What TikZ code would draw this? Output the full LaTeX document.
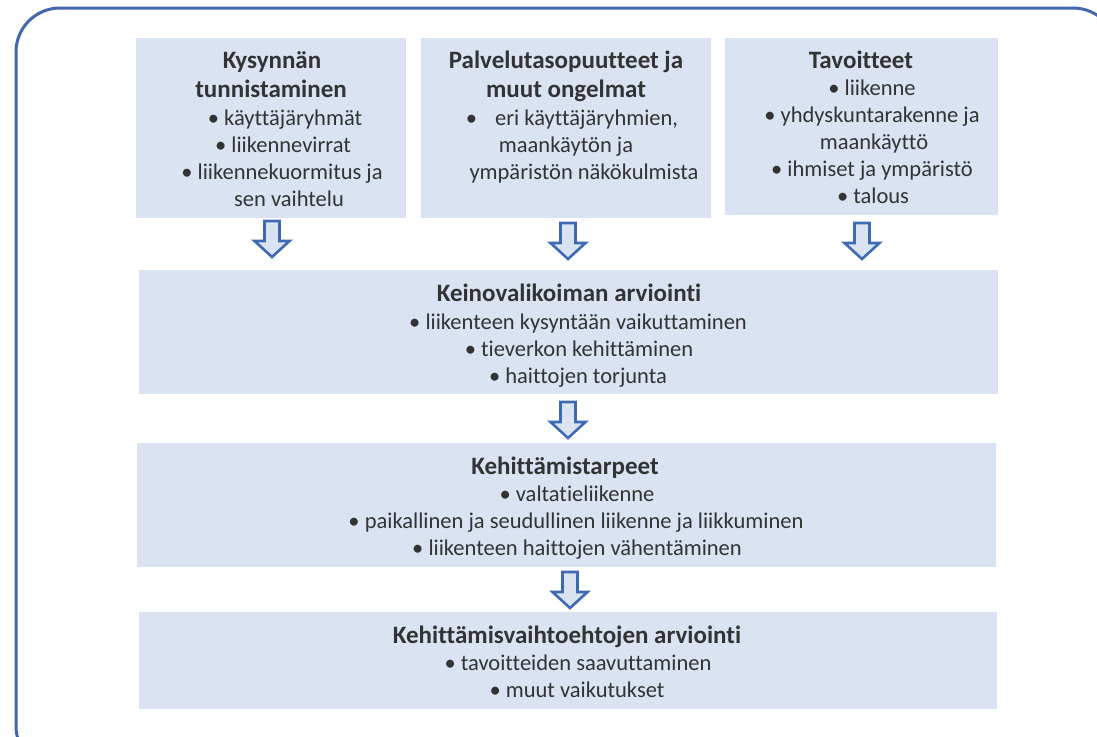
\documentclass[tikz,border=0pt]{standalone}
\usepackage{fontspec}
\setmainfont{Carlito}[RawFeature={-liga;-clig;-calt;-dlig}]
\definecolor{boxfill}{HTML}{D9E3F2}
\definecolor{framec}{HTML}{4466AF}
\definecolor{arrc}{HTML}{3D6AB2}
\definecolor{txt}{HTML}{333333}
\tikzset{
  box/.style={fill=boxfill, draw=none, inner sep=0pt, outer sep=0pt, anchor=north west},
  ttl/.style={font=\fontsize{25}{29}\selectfont\bfseries, text=txt, anchor=base, inner sep=0pt},
  bl/.style={font=\fontsize{22.5}{27}\selectfont, text=txt, anchor=base, inner sep=0pt},
  blk/.style={draw=arrc, fill=boxfill, line width=2.6pt, line join=miter},
  frame/.style={draw=framec, line width=3pt, rounded corners=44pt}
}
\newcommand{\blockarrow}[1]{%
  \draw[blk] (#1) ++(-7.5,0) -- ++(15,0) -- ++(0,20) -- ++(10,0) -- ++(-17.5,16) -- ++(-17.5,-16) -- ++(10,0) -- cycle;}
\begin{document}
\begin{tikzpicture}[x=1pt,y=-1pt]
\useasboundingbox (0,0) rectangle (1097,736);
\clip (0,0) rectangle (1097,736);
\fill[white] (0,0) rectangle (1097,736);
\draw[frame] (16,8) rectangle (1117,770);

% boxes
\node[box, minimum width=270pt, minimum height=180pt] (b1) at (136,38) {};
\node[box, minimum width=290pt, minimum height=180pt] (b2) at (421,38) {};
\node[box, minimum width=273pt, minimum height=177pt] (b3) at (725,38) {};
\node[box, minimum width=859pt, minimum height=124pt] (b4) at (139,270) {};
\node[box, minimum width=859pt, minimum height=124pt] (b5) at (137,443) {};
\node[box, minimum width=858pt, minimum height=97pt] (b6) at (139,612) {};

% box 1
\node[ttl] (t1a) at (272,68) {Kysynnän};
\node[ttl] (t1b) at (271,97) {tunnistaminen};
\node[bl] (l1a) at (285,125) {• käyttäjäryhmät};
\node[bl] (l1b) at (283,152) {• liikennevirrat};
\node[bl] (l1c) at (282,179) {• liikennekuormitus ja};
\node[bl] (l1d) at (289,206) {sen vaihtelu};

% box 2
\node[ttl] (t2a) at (566,68) {Palvelutasopuutteet ja};
\node[ttl] (t2b) at (566,97) {muut ongelmat};
\node[bl] (l2a) at (572,125) {•\hspace{0.8em}eri käyttäjäryhmien,};
\node[bl] (l2b) at (566,152) {maankäytön ja};
\node[bl] (l2c) at (584,179) {ympäristön näkökulmista};

% box 3
\node[ttl] (t3a) at (861,68) {Tavoitteet};
\node[bl] (l3a) at (872,95) {• liikenne};
\node[bl] (l3b) at (872,122) {• yhdyskuntarakenne ja};
\node[bl] (l3c) at (874,149) {maankäyttö};
\node[bl] (l3d) at (872,176) {• ihmiset ja ympäristö};
\node[bl] (l3e) at (873,203) {• talous};

% box 4
\node[ttl] (t4a) at (569,301) {Keinovalikoiman arviointi};
\node[bl] (l4a) at (578,329) {• liikenteen kysyntään vaikuttaminen};
\node[bl] (l4b) at (579,356) {• tieverkon kehittäminen};
\node[bl] (l4c) at (578,383) {• haittojen torjunta};

% box 5
\node[ttl] (t5a) at (565,474) {Kehittämistarpeet};
\node[bl] (l5a) at (577,501) {• valtatieliikenne};
\node[bl] (l5b) at (576,528) {• paikallinen ja seudullinen liikenne ja liikkuminen};
\node[bl] (l5c) at (577,555) {• liikenteen haittojen vähentäminen};

% box 6
\node[ttl] (t6a) at (567,643) {Kehittämisvaihtoehtojen arviointi};
\node[bl] (l6a) at (578,670) {• tavoitteiden saavuttaminen};
\node[bl] (l6b) at (577,697) {• muut vaikutukset};

% arrows
\coordinate (a1) at (272,221);
\coordinate (a2) at (568,223);
\coordinate (a3) at (862,223);
\coordinate (a4) at (568,402);
\coordinate (a5) at (570,572);
\blockarrow{a1}
\blockarrow{a2}
\blockarrow{a3}
\blockarrow{a4}
\blockarrow{a5}
\end{tikzpicture}
\end{document}
